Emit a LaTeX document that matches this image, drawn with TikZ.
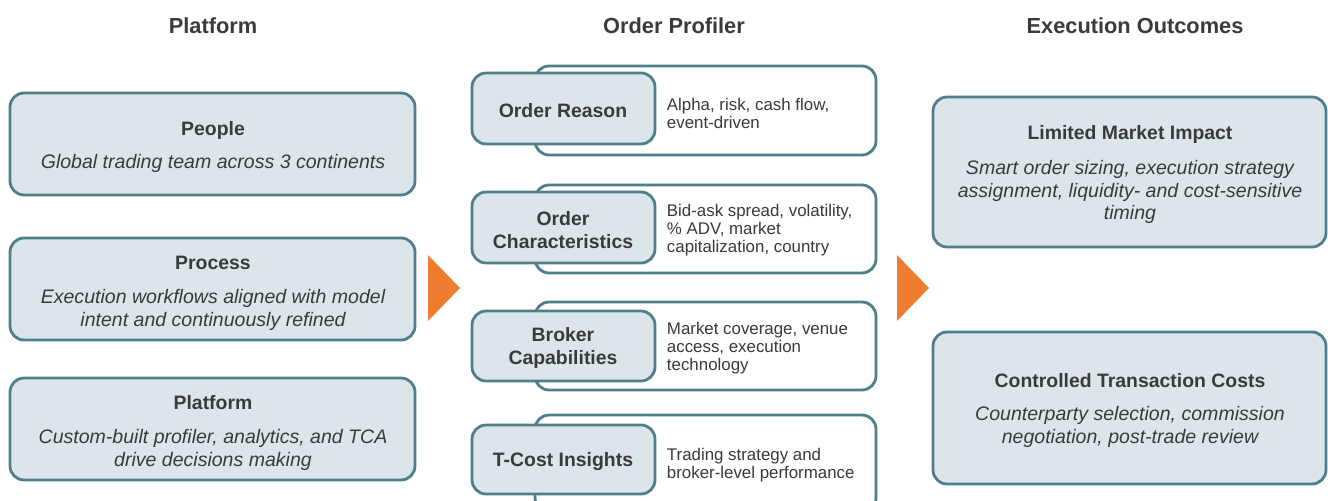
\documentclass[tikz,border=0pt]{standalone}
\usepackage{fontspec}
\setmainfont{Liberation Sans}
\usetikzlibrary{fit}
\definecolor{edge}{HTML}{4F7F8A}
\definecolor{boxfill}{HTML}{DCE6EA}
\definecolor{ink}{HTML}{3A3A3A}
\definecolor{accent}{HTML}{EE7D31}
\tikzset{
  panel/.style={draw=edge, fill=boxfill, line width=2pt, rounded corners=10pt, inner sep=0pt},
  backpanel/.style={panel, fill=white},
  head/.style={font=\fontsize{15.5}{18}\selectfont\bfseries, text=ink},
  title/.style={font=\fontsize{13.8}{16.3}\selectfont\bfseries, text=ink, align=center},
  desc/.style={font=\fontsize{13.9}{16.3}\selectfont\itshape, text=ink, align=center},
  note/.style={font=\fontsize{12}{12.8}\selectfont, text=ink, align=left, anchor=west},
}
\begin{document}
\begin{tikzpicture}[x=0.025cm, y=-0.025cm]
\useasboundingbox (0,0) rectangle (1328,500);
\node[head] (hplatform) at (213,26) {Platform};
\node[head] (hprofiler) at (674,26) {Order Profiler};
\node[head] (houtcomes) at (1135,26) {Execution Outcomes};
\node[panel, fit={(10,93) (415,195)}] (people) {};
\node[title] (peopleT) at (213,130) {People};
\node[desc] (peopleD) at (213,163) {Global trading team across 3 continents};
\node[panel, fit={(10,238) (415,340)}] (process) {};
\node[title] (processT) at (213,263) {Process};
\node[desc] (processD) at (213,309.5) {Execution workflows aligned with model\\intent and continuously refined};
\node[panel, fit={(10,378) (415,480)}] (platform) {};
\node[title] (platformT) at (213,403) {Platform};
\node[desc] (platformD) at (213,449.5) {Custom-built profiler, analytics, and TCA\\drive decisions making};
\fill[accent] (428,255) -- (460,288) -- (428,321) -- cycle;
\node[backpanel, fit={(535,66) (876,155)}] (reasonB) {};
\node[panel, fit={(472,73) (655,144)}] (reason) {};
\node[title] (reasonT) at (563,111) {Order Reason};
\node[note] (reasonN) at (662,113) {Alpha, risk, cash flow,\\event-driven};
\node[backpanel, fit={(535,185) (876,273)}] (charB) {};
\node[panel, fit={(472,192) (655,263)}] (char) {};
\node[title] (charT) at (563,230) {Order\\Characteristics};
\node[note] (charN) at (662,230) {Bid-ask spread, volatility,\\\% ADV, market\\capitalization, country};
\node[backpanel, fit={(535,302) (876,390)}] (brokerB) {};
\node[panel, fit={(472,311) (655,381)}] (broker) {};
\node[title] (brokerT) at (563,348) {Broker\\Capabilities};
\node[note] (brokerN) at (662,348) {Market coverage, venue\\access, execution\\technology};
\node[backpanel, fit={(535,415) (876,512)}] (tcostB) {};
\node[panel, fit={(472,425) (655,494)}] (tcost) {};
\node[title] (tcostT) at (563,462) {T-Cost Insights};
\node[note] (tcostN) at (662,465) {Trading strategy and\\broker-level performance};
\fill[accent] (897,255) -- (929,288) -- (897,321) -- cycle;
\node[panel, fit={(933,97) (1326,247)}] (impact) {};
\node[title] (impactT) at (1130,134) {Limited Market Impact};
\node[desc] (impactD) at (1130,192) {Smart order sizing, execution strategy\\assignment, liquidity- and cost-sensitive\\timing};
\node[panel, fit={(933,332) (1326,484)}] (costs) {};
\node[title] (costsT) at (1130,381) {Controlled Transaction Costs};
\node[desc] (costsD) at (1130,427) {Counterparty selection, commission\\negotiation, post-trade review};
\end{tikzpicture}
\end{document}
